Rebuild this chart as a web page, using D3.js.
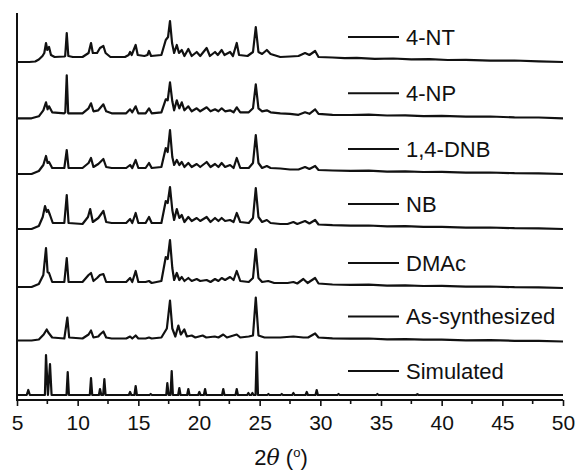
<!DOCTYPE html>
<html lang="en">
<head>
<meta charset="utf-8">
<title>XRD patterns</title>
<script src="https://cdn.jsdelivr.net/npm/d3@7"></script>
<style>
  body { margin: 0; background: #fff; }
  text { font-family: "Liberation Sans", Arial, sans-serif; fill: #111; }
</style>
</head>
<body>
<div id="chart"></div>
<script>
// sample names, top to bottom
var names = ["4-NT", "4-NP", "1,4-DNB", "NB", "DMAc", "As-synthesized", "Simulated"];

// patterns as [2theta, intensity]
var nt4 = [[5,0],[6,0],[6.5,0.5],[6.8,2.5],[7.1,6],[7.25,9],[7.39,19],[7.5,12],[7.64,15],[7.8,7],[8.1,5],[8.9,5.5],[8.97,6],[9.10,29],[9.23,6],[9.6,5],[10.4,5],[10.9,9],[11.10,19],[11.25,9],[11.6,9],[11.84,14],[12.12,16],[12.3,9],[12.7,5],[13.9,5],[14.2,7],[14.32,10],[14.45,7],[14.78,17],[14.95,7],[15.5,6],[15.75,7],[15.88,11],[16.05,6],[16.9,7],[17.26,22],[17.45,25],[17.61,41],[17.78,19],[17.95,9],[18.17,17],[18.35,9],[18.58,12],[18.8,6],[19.12,13],[19.4,6],[19.81,10],[20.1,6],[20.63,14],[20.9,6],[21.32,10],[21.55,7],[21.87,12],[22.1,7],[22.56,10],[22.8,6],[23.11,19],[23.3,7],[24.0,6],[24.45,10],[24.68,35],[24.9,10],[25.2,8],[25.59,12],[25.9,8],[26.7,5],[27.5,5.5],[28.2,6],[28.74,9],[29.1,7],[29.57,11],[29.85,5],[31,4.5],[32,3.8],[33,4.2],[34.5,3.2],[36,3.5],[37.5,2.6],[39,2.8],[40.5,2],[42,2.2],[44,1.3],[46,1.5],[48,0.6],[50,0]];
var np4 = [[5,0],[6.2,0],[6.8,2],[7.17,8],[7.39,16],[7.52,9],[7.64,12],[7.9,6],[8.9,5],[8.98,6],[9.10,43],[9.22,5],[10.4,5],[10.9,10],[11.10,15],[11.3,7],[11.7,8],[12.12,14],[12.35,7],[12.8,5],[14.0,5],[14.32,9],[14.5,6],[14.78,12],[15.0,5],[15.6,5],[15.88,10],[16.1,5],[16.9,6],[17.26,19],[17.42,18],[17.61,36],[17.8,17],[17.95,8],[18.17,18],[18.38,10],[18.58,16],[18.8,8],[19.12,12],[19.4,7],[19.81,10],[20.1,7],[20.63,11],[20.95,7],[21.32,9],[21.6,7],[21.87,10],[22.15,7],[22.56,8],[22.85,6],[23.11,11],[23.4,6],[24.1,6],[24.45,10],[24.68,34],[24.9,10],[25.2,7],[25.59,8],[25.9,6],[26.7,5],[27.5,4.5],[28.2,3.5],[28.74,6],[29.1,4.5],[29.57,9],[29.85,4.5],[31,3.5],[32.5,3.3],[34,3.6],[35.5,2.8],[37,3],[38.5,2.2],[40,2.4],[42,1.6],[44,1.8],[46,0.9],[48,0.8],[50,0]];
var dnb = [[5,0],[6.2,0],[6.8,3],[7.17,9],[7.39,18],[7.52,11],[7.64,12],[7.9,6],[8.9,6],[9.10,24],[9.25,6],[10.4,6],[10.9,11],[11.10,16],[11.3,7],[11.7,10],[12.12,15],[12.35,7],[12.8,6],[14.0,6],[14.32,9],[14.5,6],[14.78,14],[15.0,6],[15.6,6],[15.88,11],[16.1,6],[16.9,7],[17.26,26],[17.42,22],[17.61,44],[17.8,17],[17.95,9],[18.17,14],[18.38,9],[18.58,12],[18.8,7],[19.12,11],[19.4,7],[19.81,10],[20.1,7],[20.63,12],[20.95,7],[21.32,10],[21.6,7],[21.87,11],[22.15,7],[22.56,9],[22.85,6],[23.11,16],[23.4,6],[24.1,6],[24.45,11],[24.68,39],[24.9,11],[25.2,6],[25.59,8],[25.9,6],[26.7,5.5],[27.5,4.5],[28.2,4.5],[28.74,7],[29.1,5],[29.57,8],[29.85,4],[31,3.5],[32.5,3.2],[34,3.4],[35.5,2.4],[37,2.6],[38.5,2],[40,2.1],[42,1.3],[44,1.5],[46,0.8],[48,0.7],[50,0]];
var nb = [[5,0],[6.2,0],[6.8,3],[7.12,12],[7.31,23],[7.45,17],[7.56,19],[7.72,14],[7.95,6],[8.9,6],[9.10,34],[9.25,6],[10.4,5],[10.85,12],[11.03,20],[11.25,7],[11.7,11],[12.12,18],[12.35,7],[12.8,6],[14.0,6],[14.32,10],[14.5,6],[14.78,16],[15.0,6],[15.6,6],[15.88,12],[16.1,6],[16.9,6],[17.26,28],[17.42,26],[17.61,42],[17.8,19],[17.95,9],[18.17,20],[18.38,11],[18.58,14],[18.8,7],[19.12,12],[19.4,8],[19.81,11],[20.1,8],[20.63,12],[20.95,7],[21.32,11],[21.6,8],[21.87,11],[22.15,8],[22.56,9],[22.85,7],[23.11,16],[23.4,7],[24.1,6],[24.45,11],[24.68,41],[24.9,12],[25.2,7],[25.59,9],[25.9,6],[26.7,5],[27.3,5],[27.78,7],[28.1,5],[28.74,8],[29.1,5.5],[29.57,9],[29.85,4.5],[31,3.8],[32.5,3.4],[34,3.5],[35.5,2.6],[37,2.8],[38.5,2.1],[40,2.2],[42,1.4],[44,1.5],[46,0.8],[48,0.7],[50,0]];
var dmac = [[5,1],[6.2,1],[6.8,4],[7.17,13],[7.39,40],[7.52,16],[7.64,15],[7.9,6],[8.9,6],[9.10,30],[9.25,6],[10.4,6],[10.9,13],[11.10,15],[11.3,7],[11.6,10],[11.84,13],[12.12,14],[12.35,6],[12.8,6],[14.0,6],[14.32,10],[14.5,6],[14.78,17],[15.0,6],[15.6,6],[15.88,7],[16.1,5],[16.9,7],[17.26,31],[17.42,29],[17.61,48],[17.8,20],[17.95,8],[18.17,15],[18.38,8],[18.58,11],[18.8,7],[19.12,10],[19.4,7],[19.81,9],[20.1,7],[20.63,8],[20.95,6],[21.32,9],[21.6,7],[21.87,10],[22.15,8],[22.56,11],[22.85,8],[23.11,17],[23.4,7],[24.1,6],[24.45,10],[24.68,39],[24.9,10],[25.2,6],[25.7,7],[26.2,5],[26.7,5],[27.3,5],[27.78,6],[28.1,4.5],[28.6,9],[28.95,5],[29.57,10],[29.85,4.5],[31,3.5],[32.5,3.2],[34,3.4],[35.5,2.4],[37,2.7],[38.5,2],[40,2.2],[42,1.3],[44,1.5],[46,0.8],[48,0.7],[50,0]];
var asSyn = [[5,1],[6.2,1],[6.8,2],[7.2,7],[7.45,12],[7.58,9],[7.9,4],[8.9,3],[9.15,24],[9.3,4],[10.4,3],[10.9,7],[11.10,11],[11.3,4],[11.7,5],[11.84,7],[12.12,10],[12.35,4],[12.8,3],[14.0,3],[14.32,5],[14.5,3],[14.78,6],[15.0,3],[15.6,3],[15.88,4],[16.1,3],[16.9,4],[17.35,13],[17.61,41],[17.8,13],[18.05,5],[18.30,16],[18.5,7],[18.79,12],[19.0,5],[19.4,6],[19.7,4],[20.3,6],[20.6,4],[21.3,5],[21.6,4],[22.0,7],[22.3,4],[23.11,7],[23.4,4],[24.1,5],[24.45,6],[24.68,44],[24.9,6],[25.4,4],[26.7,4],[27.78,5],[28.6,4],[28.99,4],[29.57,8],[29.85,4],[31,3.2],[32.5,2.8],[34,3],[35.5,2.2],[37,2.4],[38.5,1.8],[40,1.9],[42,1.2],[44,1.3],[46,0.7],[48,0.6],[50,0]];
var simulated = [[5,1],[5.8,1],[5.93,6],[6.06,1],[7.3,1],[7.39,41],[7.55,1],[7.72,32],[7.85,1],[9.08,1],[9.18,24],[9.28,1],[11.0,1],[11.10,18],[11.2,1],[11.75,1],[11.84,7],[11.95,1],[12.1,1],[12.2,17],[12.3,1],[14.22,1],[14.32,4],[14.42,1],[14.68,1],[14.78,10],[14.88,1],[15.92,1],[16.02,2],[16.12,1],[17.3,1],[17.39,13],[17.5,1],[17.65,1],[17.75,25],[17.85,1],[18.28,1],[18.38,8],[18.48,1],[19.02,1],[19.12,7],[19.22,1],[19.93,1],[20.03,4],[20.13,1],[20.4,1],[20.5,7],[20.6,1],[21.9,1],[22.0,7],[22.1,1],[23.01,1],[23.11,7],[23.21,1],[23.97,1],[24.07,3],[24.17,1],[24.3,1],[24.40,3],[24.5,1],[24.66,1],[24.76,44],[24.86,1],[25.62,1],[25.72,2],[25.82,1],[26.72,1],[26.82,2],[26.92,1],[27.68,1],[27.78,3],[27.88,1],[28.78,1],[28.88,4],[28.98,1],[29.6,1],[29.70,6],[29.8,1],[31.4,1],[31.5,2],[31.6,1],[34.6,1],[34.7,2],[34.8,1],[37.9,1],[38.0,1.8],[38.1,1],[50,1]];

var patterns = [nt4, np4, dnb, nb, dmac, asSyn, simulated];

var xTicks = [5, 10, 15, 20, 25, 30, 35, 40, 45, 50];
var xMinor = [7.5, 12.5, 17.5, 22.5, 27.5, 32.5, 37.5, 42.5, 47.5];

// layout (note: "top" is taken by window, so use a margin object)
var W = 578, H = 472;
var plot = { x0: 17, x1: 563, y0: 13, y1: 400 };
var stackStep = [334, 277.7, 222, 167, 108, 54.5, 0]; // vertical offset of each pattern, intensity units

var svg = d3.select("#chart").append("svg")
    .attr("width", W)
    .attr("height", H);

var x = d3.scaleLinear().domain([5, 50]).range([plot.x0, plot.x1]);
var y = d3.scaleLinear().domain([0, 383]).range([396, plot.y0]);

// traces
patterns.forEach(function (p, i) {
    var line = d3.line()
        .x(function (d) { return x(d[0]); })
        .y(function (d) { return y(d[1] + stackStep[i]); });
    svg.append("path")
        .datum(p)
        .attr("d", line)
        .attr("fill", "none")
        .attr("stroke", "#111")
        .attr("stroke-width", 2.2)
        .attr("stroke-linejoin", "round");
});

// bottom axis
var xAxis = d3.axisBottom(x).tickValues(xTicks).tickSize(6).tickPadding(9);
var gx = svg.append("g").attr("transform", "translate(0," + plot.y1 + ")").call(xAxis);
gx.select(".domain").attr("stroke", "#111").attr("stroke-width", 2).attr("d", "M" + plot.x0 + ",0H" + plot.x1);
gx.selectAll(".tick line").attr("stroke", "#111").attr("stroke-width", 1.6);
gx.selectAll(".tick text").style("font-size", "21px").style("font-family", "Liberation Sans, Arial, sans-serif").attr("fill", "#111");

gx.selectAll(".minor").data(xMinor).enter().append("line")
    .attr("class", "minor")
    .attr("x1", function (d) { return x(d); })
    .attr("x2", function (d) { return x(d); })
    .attr("y1", 0).attr("y2", 4)
    .attr("stroke", "#111").attr("stroke-width", 1.6);

// left axis line only
svg.append("line")
    .attr("x1", plot.x0).attr("x2", plot.x0)
    .attr("y1", plot.y0).attr("y2", plot.y1 + 1)
    .attr("stroke", "#111").attr("stroke-width", 2);

// axis title
var title = svg.append("text")
    .attr("x", 281).attr("y", 465)
    .attr("text-anchor", "middle")
    .style("font-size", "22px");
title.append("tspan").text("2");
title.append("tspan").style("font-style", "italic").style("font-family", "DejaVu Serif, serif").text("\u03b8");
title.append("tspan").text(" (");
title.append("tspan").attr("dy", -8).style("font-size", "13px").text("o");
title.append("tspan").attr("dy", 8).text(")");

// labels with a short line
var lab = svg.selectAll(".lab").data(names).enter().append("g")
    .attr("class", "lab")
    .attr("transform", function (d, i) { return "translate(348," + (y(stackStep[i]) - 25) + ")"; });
lab.append("line")
    .attr("x1", 0).attr("x2", 51)
    .attr("stroke", "#111").attr("stroke-width", 2);
lab.append("text")
    .attr("x", 58).attr("dy", "0.35em")
    .style("font-size", "22px")
    .text(function (d) { return d; });
</script>
</body>
</html>
